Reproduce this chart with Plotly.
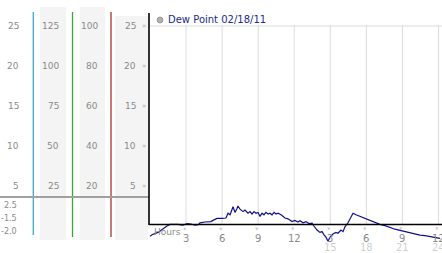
import plotly.graph_objects as go

# ---------------- data ----------------
hours = [0.0, 0.17, 0.67, 1.08, 1.41, 1.66, 2.33, 2.75, 3.08, 3.41, 3.74, 4.0, 4.16, 4.58, 5.07,
         5.24, 5.57, 5.99, 6.32, 6.49, 6.66, 6.91, 7.07, 7.24, 7.32, 7.49, 7.74, 7.9, 8.15, 8.32,
         8.49, 8.65, 8.82, 8.99, 9.15, 9.32, 9.48, 9.65, 9.82, 9.98, 10.15, 10.32, 10.48, 10.65,
         10.9, 11.23, 11.48, 11.81, 12.06, 12.31, 12.48, 12.73, 12.98, 13.23, 13.48, 13.64, 13.89,
         14.14, 14.31, 14.48, 14.64, 14.81, 14.98, 15.22, 15.47, 15.64, 15.89, 16.06, 16.22, 16.47,
         16.72, 16.89, 17.14, 17.47, 17.89, 18.3, 18.72, 19.13, 19.55, 19.97, 20.38, 20.8, 21.21,
         21.63, 22.05, 22.46, 22.88, 23.29, 23.71, 24.13]
dew_point = [-1.3, -1.1, -0.8, -0.3, 0.0, 0.2, 0.2, 0.1, 0.3, 0.25, 0.1, 0.15, 0.4, 0.5, 0.55,
             0.7, 0.95, 0.95, 1.0, 1.6, 1.4, 2.4, 1.7, 2.2, 2.5, 2.1, 1.8, 2.0, 1.6, 1.8,
             1.5, 1.8, 1.6, 1.7, 1.2, 1.6, 1.4, 1.7, 1.5, 1.6, 1.4, 1.7, 1.5, 1.6,
             1.4, 1.0, 0.9, 0.55, 0.7, 0.5, 0.65, 0.4, 0.55, 0.3, 0.35, 0.0, -0.5,
             -0.8, -0.7, -1.1, -1.4, -1.9, -1.4, -1.0, -0.8, -0.9, -0.5, -0.7, -0.1, 0.4,
             1.2, 1.6, 1.4, 1.2, 0.95, 0.75, 0.4, 0.2, 0.05, -0.2, -0.4, -0.55, -0.7,
             -0.9, -1.0, -1.15, -1.2, -1.3, -1.4, -1.55]

grid_hours = [3, 6, 9, 12, 15, 18, 21, 24]
hour_labels = ["3", "6", "9", "12", "3", "6", "9", "12"]
day_hours = [15, 18, 21, 24]
day_labels = ["15", "18", "21", "24"]

col1_labels = ["25", "20", "15", "10", "5"]
col2_labels = ["125", "100", "75", "50", "25"]
col3_labels = ["100", "80", "60", "40", "20"]
col4_labels = ["25", "20", "15", "10", "5"]
scale_values = [25, 20, 15, 10, 5]
stat_labels = ["2.5", "-1.5", "-2.0"]
legend_text = "Dew Point 02/18/11"

# ---------------- geometry helpers (pixels -> paper) ----------------
W, H = 442, 253
def X(px):
    return px / W
def Y(py):
    return 1 - py / H

PX0, PXH = 150.0, 12.02     # pixel of hour 0, pixels per hour
PY0, PYV = 226.0, 8.0       # pixel of value 0, pixels per unit
x_range = [(149 - PX0) / PXH, (W - PX0) / PXH]
y_range = [(PY0 - H) / PYV, PY0 / PYV]

GREY = "#8a8a8a"
FONT = "DejaVu Sans"

fig = go.Figure()
fig.add_trace(go.Scatter(x=hours, y=dew_point, mode="lines",
                         line=dict(color="#10108a", width=1.2),
                         hoverinfo="skip", showlegend=False))

shapes = []
# left panel backgrounds
for x0, x1, y0 in [(40, 66, 7), (80, 105, 7), (115, 148, 16)]:
    shapes.append(dict(type="rect", xref="paper", yref="paper",
                       x0=X(x0), x1=X(x1), y0=Y(240), y1=Y(y0),
                       fillcolor="#f4f4f4", line=dict(width=0), layer="below"))
# coloured separators
for xp, col, yb in [(33.3, "#3fa7cc", 235), (72.5, "#3aa63a", 237), (111, "#a83232", 237)]:
    shapes.append(dict(type="line", xref="paper", yref="paper",
                       x0=X(xp), x1=X(xp), y0=Y(12), y1=Y(yb),
                       line=dict(color=col, width=1.3)))
# grey horizontal bar in left panel
shapes.append(dict(type="line", xref="paper", yref="paper",
                   x0=0, x1=X(149), y0=Y(197), y1=Y(197),
                   line=dict(color="#a0a0a0", width=2)))
# main grid
for h in grid_hours:
    shapes.append(dict(type="line", xref="x", yref="paper",
                       x0=h, x1=h, y0=Y(224), y1=Y(25),
                       line=dict(color="#dcdcdc", width=1), layer="below"))
shapes.append(dict(type="line", xref="paper", yref="y",
                   x0=X(149), x1=1, y0=25, y1=25,
                   line=dict(color="#dcdcdc", width=1), layer="below"))
# axes
shapes.append(dict(type="line", xref="paper", yref="paper",
                   x0=X(149), x1=X(149), y0=Y(13), y1=Y(225),
                   line=dict(color="black", width=1.6)))
shapes.append(dict(type="line", xref="paper", yref="paper",
                   x0=X(149), x1=1, y0=Y(224.5), y1=Y(224.5),
                   line=dict(color="black", width=1.5)))
# legend marker
shapes.append(dict(type="circle", xref="paper", yref="paper",
                   x0=X(157), x1=X(163), y0=Y(23), y1=Y(17),
                   fillcolor="#b0b0b0", line=dict(color="#909090", width=0.8)))

ann = []
def txt(x, y, t, size=9, color=GREY, xanchor="right", xref="paper", yref="paper", angle=0):
    ann.append(dict(x=x, y=y, text=t, xref=xref, yref=yref, showarrow=False,
                    xanchor=xanchor, yanchor="middle", textangle=angle,
                    font=dict(family=FONT, size=size, color=color)))

for v, a, b, c, d in zip(scale_values, col1_labels, col2_labels, col3_labels, col4_labels):
    py = PY0 - PYV * v
    txt(X(20.5), Y(py), a)
    txt(X(60.5), Y(py), b)
    txt(X(99.5), Y(py), c)
    txt(X(137.5), Y(py), d)
    txt(X(147.5), Y(py), "»", size=7, color="#aaaaaa")

for lbl, py in zip(stat_labels, [205, 218, 231]):
    txt(X(18.5), Y(py), lbl, size=8)

txt(X(166), Y(20), legend_text, size=10, color="#1a2a8c", xanchor="left")
txt(X(152), Y(231.5), "Hours", size=9, xanchor="left")

for h, lbl in zip(grid_hours, hour_labels):
    txt(h, Y(229), "»", size=6, color="#aaaaaa", xanchor="center", xref="x", angle=90)
    txt(h, Y(238.5), lbl, size=10, xanchor="center", xref="x")
for h, lbl in zip(day_hours, day_labels):
    txt(h, Y(247), lbl, size=10, color="#cfcfcf", xanchor="center", xref="x")

fig.update_layout(
    width=W, height=H,
    margin=dict(l=0, r=0, t=0, b=0),
    paper_bgcolor="white", plot_bgcolor="rgba(0,0,0,0)",
    xaxis=dict(domain=[X(149), 1], range=x_range, visible=False, fixedrange=True),
    yaxis=dict(domain=[0, 1], range=y_range, visible=False, fixedrange=True),
    shapes=shapes, annotations=ann, showlegend=False,
)

fig.write_html("out.html")
